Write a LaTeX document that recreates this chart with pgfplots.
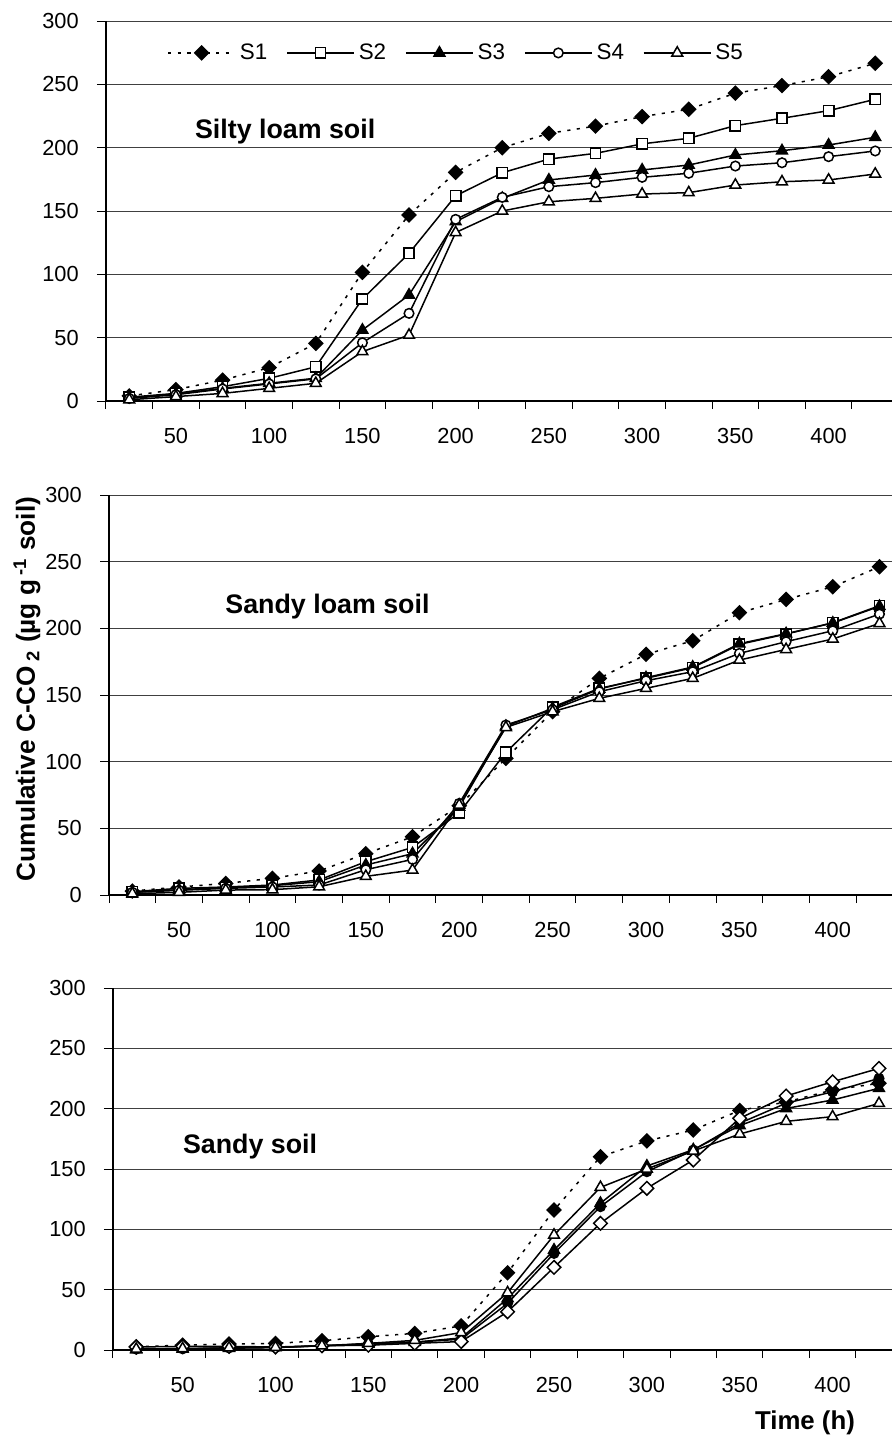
\documentclass[border=0pt]{standalone}
\usepackage{fontspec}
\setmainfont{Liberation Sans}
\usepackage{pgfplots}
\usepackage{pgfplotstable}
\pgfplotsset{compat=1.18}

% Cumulative C-CO2 (ug/g soil) for the five treatments, sampled every 25 h
\pgfplotstableread{
t   S1    S2    S3    S4    S5
25  4     3     2.5   2     1
50  9     6     5.5   5     3.5
75  16.5  11.3  10    9.5   6
100 26.3  17.9  14    13.5  10
125 45.5  27    18    17.5  14
150 101.6 80.5  56    46    39
175 146.8 116.6 83.7  69.2  52
200 180.5 162   141.6 143.4 133
225 200   180.2 160   160.8 150
250 211.3 191   174.5 169.2 157.3
275 217   195.5 178.4 172.4 160
300 224.5 203   182.4 176.6 163.4
325 230.3 207.4 186.3 179.8 164.5
350 243   217.4 194.2 185.5 170.5
375 249   223.2 197.6 188.1 173.1
400 256   229.2 202.1 192.9 174.5
425 266.6 238.2 208.2 197.4 179.2
}\siltyloam

\pgfplotstableread{
t   S1    S2    S3    S4    S5
25  3     2.5   2     2     1
50  6     5     4     3.5   2
75  8.7   6     5.5   5     3.7
100 12.5  7.5   7     6     4
125 18    11.3  10    7.5   6.2
150 31    25    22.5  19    14
175 43.7  35.7  31    26.7  18.7
200 67    61.7  66    68.7  67.5
225 102.5 107   126.5 127.5 125.7
250 137.5 141   140   139   137.5
275 162.5 155   154.5 152.5 147.5
300 180.5 162.5 163   160.7 155
325 190.7 170.5 171   167.5 162.5
350 211.7 188   188.5 181.2 176.2
375 221.7 195.7 196   190   184.2
400 231.2 204.2 204   198.2 192
425 246.2 217   216.5 210.7 203.7
}\sandyloam

\pgfplotstableread{
t   S1    S2    S3    S4    S5
25  2.7   0.8   0.3   2.5   0.8
50  4     1     0.8   3     1.2
75  5     1.8   1.5   3     1.8
100 5.5   2.2   2     2.5   2.2
125 7.7   3.5   3.5   3.5   3.5
150 11    5     5     4     5.5
175 13.8  6.5   6.5   5.5   8
200 20    9     10    7     14.5
225 64    38.7  42.7  31.7  47.5
250 116   80.1  82.9  68.5  95.3
275 160.2 118.8 121.6 105   134.8
300 173.3 147.8 152.5 134   150
325 182.3 165.7 166   157.5 165
350 198.6 188   186   192   179
375 205.5 204.5 200.2 210.5 189.5
400 215.5 214   207.2 222.3 193.4
425 221   225.1 216.9 233.4 204.4
}\sandy

\pgfplotsset{
  panel/.style={
    scale only axis, clip=false,
    xmin=12.5, ymin=0, ymax=300,
    axis x line*=bottom, axis y line*=left,
    axis line style={black, line width=0.6pt},
    xtick={50,100,...,400},
    minor xtick={12.5,37.5,...,412.5},
    ytick={0,50,...,300},
    tick align=outside,
    major tick length=4.5pt, minor tick length=4pt,
    major x tick style={draw=none},
    minor x tick style={black, line width=0.5pt},
    ytick style={black, line width=0.5pt},
    ymajorgrids,
    major grid style={black!75, line width=0.5pt},
    /pgf/number format/assume math mode=true,
    ticklabel style={font=\fontsize{10.9}{12}\selectfont},
    xticklabel style={yshift=-5.5pt},
    yticklabel style={xshift=-5.6pt},
  },
  s1/.style={black, line width=0.75pt, dash pattern=on 1.6pt off 3.2pt,
    mark=square*, mark size=2.4pt, mark options={solid, rotate=45, fill=black}},
  s2/.style={black, line width=0.75pt, mark=square*, mark size=2.6pt,
    mark options={solid, fill=white}},
  s3/.style={black, line width=0.75pt, mark=triangle*, mark size=3.1pt,
    mark options={solid, fill=black}},
  s4/.style={black, line width=0.75pt, mark=*, mark size=2.4pt,
    mark options={solid, fill=white}},
  s5/.style={black, line width=0.75pt, mark=triangle*, mark size=3.1pt,
    mark options={solid, fill=white}},
  s2b/.style={black, line width=0.75pt, mark=*, mark size=2.4pt,
    mark options={solid, fill=black}},
  s4b/.style={black, line width=0.75pt, mark=square*, mark size=2.4pt,
    mark options={solid, rotate=45, fill=white}},
}

\begin{document}
\begin{tikzpicture}
\path[use as bounding box] (0pt,0pt) rectangle (446pt,-720.5pt);

% Silty loam soil
\begin{axis}[panel, at={(53pt,-200.5pt)}, anchor=south west,
    width=393pt, height=190pt, xmax=434,
    legend columns=5,
    legend style={draw=none, fill=none, inner sep=0pt,
      at={(0.0776,0.916)}, anchor=west,
      font=\fontsize{11.2}{13}\selectfont,
      /tikz/every even column/.append style={column sep=7.5pt}},
    legend image code/.code={\draw[mark repeat=2,mark phase=2]
      plot coordinates {(0pt,0pt) (16.75pt,0pt) (33.5pt,0pt)};},
  ]
  \addplot[s1] table[x=t, y=S1] {\siltyloam}; \addlegendentry{S1}
  \addplot[s2] table[x=t, y=S2] {\siltyloam}; \addlegendentry{S2}
  \addplot[s3] table[x=t, y=S3] {\siltyloam}; \addlegendentry{S3}
  \addplot[s4] table[x=t, y=S4] {\siltyloam}; \addlegendentry{S4}
  \addplot[s5] table[x=t, y=S5] {\siltyloam}; \addlegendentry{S5}
\end{axis}

% Sandy loam soil
\begin{axis}[panel, at={(54.5pt,-447.5pt)}, anchor=south west,
    width=391.5pt, height=200pt, xmax=431.7]
  \addplot[s1] table[x=t, y=S1] {\sandyloam};
  \addplot[s2] table[x=t, y=S2] {\sandyloam};
  \addplot[s3] table[x=t, y=S3] {\sandyloam};
  \addplot[s4] table[x=t, y=S4] {\sandyloam};
  \addplot[s5] table[x=t, y=S5] {\sandyloam};
\end{axis}

% Sandy soil
\begin{axis}[panel, at={(56.5pt,-675pt)}, anchor=south west,
    width=389.5pt, height=181pt, xmax=432]
  \addplot[s1] table[x=t, y=S1] {\sandy};
  \addplot[s2b] table[x=t, y=S2] {\sandy};
  \addplot[s3] table[x=t, y=S3] {\sandy};
  \addplot[s4b] table[x=t, y=S4] {\sandy};
  \addplot[s5] table[x=t, y=S5] {\sandy};
\end{axis}

\node[anchor=west, font=\bfseries\fontsize{13.4}{15}\selectfont] at (94pt,-66pt) {Silty loam soil};
\node[anchor=west, font=\bfseries\fontsize{13.4}{15}\selectfont] at (109.2pt,-303.5pt) {Sandy loam soil};
\node[anchor=west, font=\bfseries\fontsize{13.4}{15}\selectfont] at (88pt,-573.5pt) {Sandy soil};
\node[font=\bfseries\fontsize{12.9}{15}\selectfont] at (402.5pt,-711.5pt) {Time (h)};
\node[rotate=90, font=\bfseries\fontsize{13.1}{15}\selectfont] at (13.5pt,-344.5pt)
  {Cumulative C-CO\,\textsubscript{2} (µg g\,\textsuperscript{-1} soil)};
\end{tikzpicture}
\end{document}
